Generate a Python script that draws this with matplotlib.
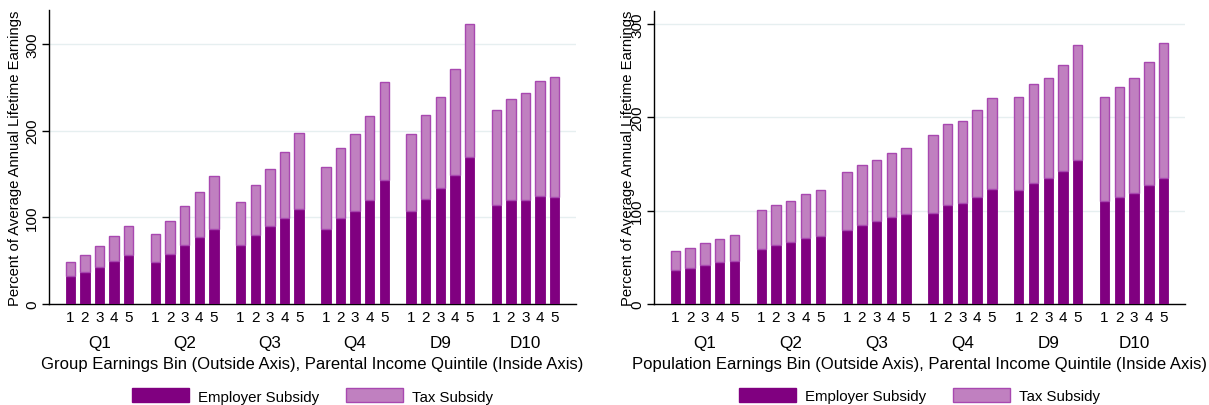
import matplotlib
matplotlib.use("Agg")
import matplotlib.pyplot as plt
from matplotlib.patches import Patch
import numpy as np

plt.rcParams['font.family'] = ['Liberation Sans', 'DejaVu Sans']

groups = ['Q1', 'Q2', 'Q3', 'Q4', 'D9', 'D10']
quintiles = ['1', '2', '3', '4', '5']

left_employer = [32, 37, 43, 50, 56,
                 49, 58, 67.5, 77, 86,
                 68, 80, 89.5, 99.5, 110,
                 86, 99, 107.6, 120, 142.7,
                 107, 120.7, 133.4, 148.5, 169,
                 113.8, 119.5, 120, 124.6, 123]
left_tax = [16, 19, 24, 28, 34,
            31.6, 38, 45.5, 52, 62,
            49.6, 57.7, 66.5, 76, 87.5,
            71.7, 81, 87.9, 97, 113.8,
            89, 97.3, 105.6, 123, 153.4,
            109.9, 116.5, 123, 133, 139]

right_employer = [36.9, 39, 42, 44.8, 46.5,
                  59.4, 63, 66.2, 70.5, 72.7,
                  79, 85, 88.8, 92.7, 96,
                  98, 105.6, 108, 115, 122.8,
                  122, 130, 134.6, 142, 154,
                  110, 115, 118.9, 127.5, 135]
right_tax = [19.7, 21.5, 23, 25, 27.3,
             40.9, 43, 44.4, 47.3, 49.3,
             62.4, 63.6, 65.5, 69.1, 71.6,
             83, 87, 88, 93, 98.2,
             100, 106, 107.8, 114.4, 123.8,
             112, 117.7, 122.8, 132.1, 144.6]

xlabel_left = 'Group Earnings Bin (Outside Axis), Parental Income Quintile (Inside Axis)'
xlabel_right = 'Population Earnings Bin (Outside Axis), Parental Income Quintile (Inside Axis)'
ylabel = 'Percent of Average Annual Lifetime Earnings'

DARK = '#800080'
LIGHT = '#c080c0'
EDGE = '#a848b0'
GRID = '#e6eff0'

W, H = 1209, 406
fig = plt.figure(figsize=(W / 100, H / 100), dpi=100)

GSTEP = 5.82
positions = np.array([g * GSTEP + i for g in range(len(groups)) for i in range(len(quintiles))])
centers = [g * GSTEP + 2 for g in range(len(groups))]


def panel(rect, emp, tax, ymax, xlabel, ylab_off):
    ax = fig.add_axes(rect)
    emp = np.array(emp)
    tax = np.array(tax)
    ax.bar(positions, emp, width=0.64, color=DARK, edgecolor=DARK, linewidth=0.6, zorder=3)
    ax.bar(positions, tax, bottom=emp, width=0.64, color=LIGHT, edgecolor=EDGE,
           linewidth=1.0, zorder=3)
    ax.set_xlim(-1.45, positions[-1] + 1.45)
    ax.set_ylim(0, ymax)
    ax.set_yticks([0, 100, 200, 300])
    ax.yaxis.grid(True, color=GRID, linewidth=1.0, zorder=0)
    ax.set_axisbelow(True)
    for s in ['top', 'right']:
        ax.spines[s].set_visible(False)
    ax.spines['left'].set_linewidth(1.0)
    ax.spines['bottom'].set_linewidth(1.0)
    ax.set_xticks(positions)
    ax.set_xticklabels(quintiles * len(groups), fontsize=11)
    ax.tick_params(axis='x', length=0, pad=4.5)
    ax.tick_params(axis='y', length=5, width=1, pad=2, labelsize=11, labelrotation=90)
    for lab in ax.get_yticklabels():
        lab.set_va('center')
    for c, g in zip(centers, groups):
        ax.annotate(g, xy=(c, 0), xycoords=('data', 'axes fraction'),
                    xytext=(0, -28), textcoords='offset points',
                    ha='center', va='center', fontsize=12.3)
    ax.annotate(xlabel, xy=(0.5, 0), xycoords='axes fraction',
                xytext=(0, -42.5), textcoords='offset points',
                ha='center', va='center', fontsize=12, annotation_clip=False)
    ax.set_ylabel(ylabel, fontsize=10.7)
    ax.yaxis.set_label_coords(ylab_off, 0.5)
    handles = [Patch(facecolor=DARK, edgecolor=DARK, label='Employer Subsidy'),
               Patch(facecolor=LIGHT, edgecolor=EDGE, label='Tax Subsidy')]
    ax.legend(handles=handles, loc='center', bbox_to_anchor=(0.5, -0.313), ncol=2,
              frameon=False, fontsize=10.8, handlelength=3.8, handleheight=1.05,
              handletextpad=0.6, columnspacing=1.8)
    return ax


ax1 = panel([49 / W, (H - 305) / H, 527 / W, 294 / H], left_employer, left_tax, 339,
            xlabel_left, -27 / 527)
ax2 = panel([654 / W, (H - 305) / H, 531 / W, 293 / H], right_employer, right_tax, 314,
            xlabel_right, -19 / 531)

fig.savefig('out.png', dpi=100)
